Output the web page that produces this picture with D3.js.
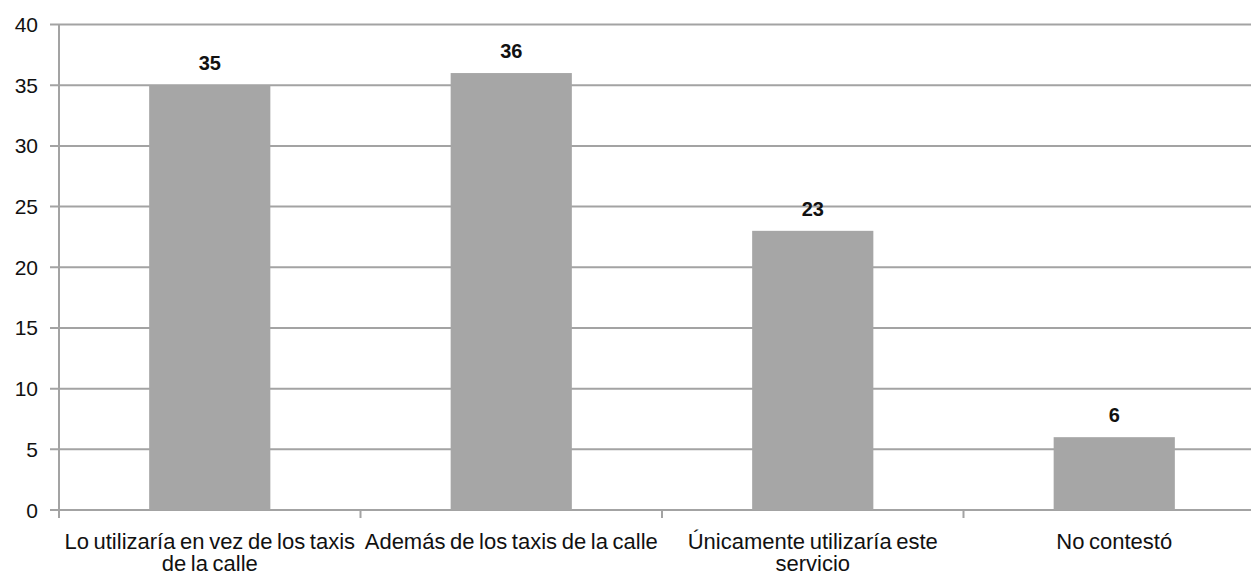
<!DOCTYPE html>
<html>
<head>
<meta charset="utf-8">
<script src="https://cdn.jsdelivr.net/npm/d3@7"></script>
<style>
  html, body { margin: 0; padding: 0; background: #fff; }
  svg { display: block; font-family: "Liberation Sans", Arial, sans-serif; }
</style>
</head>
<body>
<svg id="chart" width="1251" height="574"></svg>
<script>
const categories = [
  "Lo utilizaría en vez de los taxis\nde la calle",
  "Además de los taxis de la calle",
  "Únicamente utilizaría este\nservicio",
  "No contestó"
];
const values = [35, 36, 23, 6];
const yTicks = [0, 5, 10, 15, 20, 25, 30, 35, 40];

const svg = d3.select("#chart");
const mLeft = 59, mRight = 1265, mTop = 24.5, mBottom = 510;

const x = d3.scaleBand().domain(categories).range([mLeft, mRight])
  .paddingInner(0.598).paddingOuter(0.299);
const xb = d3.scaleBand().domain(categories).range([mLeft, mRight]).padding(0);
const y = d3.scaleLinear().domain([0, 40]).range([mBottom, mTop]);

const gridColor = "#a3a3a3";

// gridlines
svg.append("g").selectAll("line").data(yTicks).join("line")
  .attr("x1", mLeft - 9).attr("x2", 1251)
  .attr("y1", d => y(d)).attr("y2", d => y(d))
  .attr("stroke", gridColor).attr("stroke-width", 2);

// bars
svg.append("g").selectAll("rect").data(values).join("rect")
  .attr("x", (d, i) => x(categories[i]))
  .attr("width", x.bandwidth())
  .attr("y", d => y(d))
  .attr("height", d => y(0) - y(d))
  .attr("fill", "#a6a6a6");

// y axis line
svg.append("line").attr("x1", mLeft).attr("x2", mLeft)
  .attr("y1", mTop).attr("y2", mBottom + 8)
  .attr("stroke", gridColor).attr("stroke-width", 2);

// category ticks
svg.append("g").selectAll("line").data(categories.slice(1)).join("line")
  .attr("x1", d => xb(d)).attr("x2", d => xb(d))
  .attr("y1", mBottom).attr("y2", mBottom + 8)
  .attr("stroke", gridColor).attr("stroke-width", 2);

// y tick labels
svg.append("g").selectAll("text").data(yTicks).join("text")
  .attr("x", 38).attr("y", d => y(d))
  .attr("dy", "0.36em")
  .attr("text-anchor", "end")
  .attr("font-size", 21)
  .attr("fill", "#111")
  .text(d => d);

// value labels
svg.append("g").selectAll("text").data(values).join("text")
  .attr("x", (d, i) => x(categories[i]) + x.bandwidth() / 2)
  .attr("y", d => y(d) - 15)
  .attr("text-anchor", "middle")
  .attr("font-size", 20)
  .attr("font-weight", "bold")
  .attr("fill", "#111")
  .text(d => d);

// category labels
const cl = svg.append("g").selectAll("text").data(categories).join("text")
  .attr("x", d => xb(d) + xb.bandwidth() / 2)
  .attr("y", 549)
  .attr("text-anchor", "middle")
  .attr("font-size", 22)
  .attr("word-spacing", "-1.5")
  .attr("fill", "#111");
cl.each(function(d) {
  const lines = d.split("\n");
  const t = d3.select(this);
  lines.forEach((ln, k) => {
    t.append("tspan").attr("x", t.attr("x")).attr("dy", k === 0 ? 0 : 22).text(ln);
  });
});
</script>
</body>
</html>
